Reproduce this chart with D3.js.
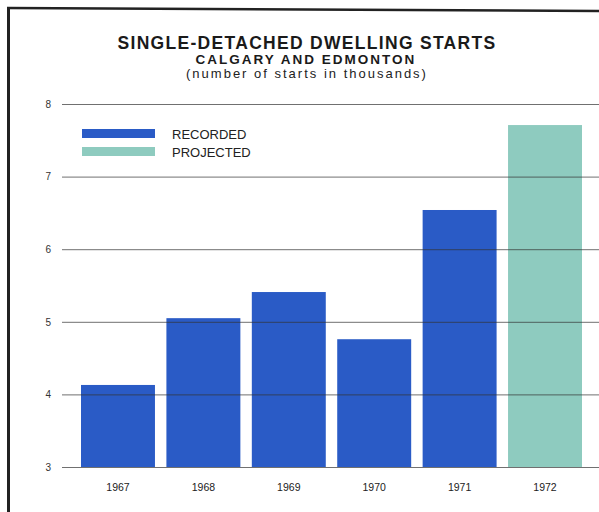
<!DOCTYPE html>
<html>
<head>
<meta charset="utf-8">
<script src="https://cdn.jsdelivr.net/npm/d3@7"></script>
<style>
  html, body { margin: 0; padding: 0; background: #fff; }
  svg { display: block; font-family: "Liberation Sans", Arial, sans-serif; }
</style>
</head>
<body>
<svg id="chart" width="599" height="512"></svg>
<script>
// Single-detached dwelling starts, Calgary and Edmonton (thousands)
const years = ["1967", "1968", "1969", "1970", "1971", "1972"];
const starts = [4.13, 5.05, 5.41, 4.76, 6.54, 7.71];
const status = ["recorded", "recorded", "recorded", "recorded", "recorded", "projected"];
const yTicks = [3, 4, 5, 6, 7, 8];
const legendLabels = ["RECORDED", "PROJECTED"];

const colors = { recorded: "#2a5bc6", projected: "#8ecbbf" };

const svg = d3.select("#chart");

// frame (left and top rules)
svg.append("line").attr("x1", 8.5).attr("y1", 8).attr("x2", 8.5).attr("y2", 512)
  .attr("stroke", "#222").attr("stroke-width", 3);
svg.append("line").attr("x1", 7).attr("y1", 8).attr("x2", 599).attr("y2", 11)
  .attr("stroke", "#222").attr("stroke-width", 2.5);

// titles
svg.append("text").attr("x", 307).attr("y", 49).attr("text-anchor", "middle")
  .attr("font-weight", "bold").attr("font-size", 17.5).attr("letter-spacing", 1.3)
  .attr("fill", "#1a1a1a")
  .text("SINGLE-DETACHED DWELLING STARTS");
svg.append("text").attr("x", 306).attr("y", 64).attr("text-anchor", "middle")
  .attr("font-weight", "bold").attr("font-size", 13.5).attr("letter-spacing", 2)
  .attr("fill", "#1a1a1a")
  .text("CALGARY AND EDMONTON");
svg.append("text").attr("x", 307).attr("y", 78).attr("text-anchor", "middle")
  .attr("font-size", 13).attr("letter-spacing", 2)
  .attr("fill", "#222")
  .text("(number of starts in thousands)");

// scales
const x = d3.scaleBand().domain(years).range([81, 582]).paddingInner(0.134).paddingOuter(0);
const y = d3.scaleLinear().domain([3, 8]).range([467, 104]);

// bars
svg.append("g").selectAll("rect").data(years).join("rect")
  .attr("x", d => x(d))
  .attr("y", (d, i) => y(starts[i]))
  .attr("width", x.bandwidth())
  .attr("height", (d, i) => y(3) - y(starts[i]))
  .attr("fill", (d, i) => colors[status[i]]);

// gridlines over the bars, with tick labels
const yAxis = d3.axisLeft(y).tickValues(yTicks).tickSize(-537).tickFormat(d3.format("d"));
const gAxis = svg.append("g").attr("transform", "translate(62,0)").call(yAxis);
gAxis.select(".domain").remove();
gAxis.selectAll(".tick line").attr("stroke", "#333").attr("stroke-width", 1).attr("opacity", 0.7);
gAxis.selectAll(".tick text").attr("x", -11).attr("font-size", 10).attr("fill", "#333")
  .attr("font-family", "Liberation Sans, Arial, sans-serif");

// year labels
const xAxis = d3.axisBottom(x).tickSize(0).tickPadding(17);
const gX = svg.append("g").attr("transform", "translate(0,467)").call(xAxis);
gX.select(".domain").remove();
gX.selectAll(".tick text").attr("font-size", 10.5).attr("fill", "#222")
  .attr("font-family", "Liberation Sans, Arial, sans-serif");

// legend
const legend = svg.append("g");
legendLabels.forEach((lab, i) => {
  const key = i === 0 ? "recorded" : "projected";
  legend.append("rect").attr("x", 82).attr("y", 129 + i * 18).attr("width", 73).attr("height", 9)
    .attr("fill", colors[key]);
  legend.append("text").attr("x", 172).attr("y", 139 + i * 18)
    .attr("font-size", 13).attr("fill", "#222").text(lab);
});
</script>
</body>
</html>
